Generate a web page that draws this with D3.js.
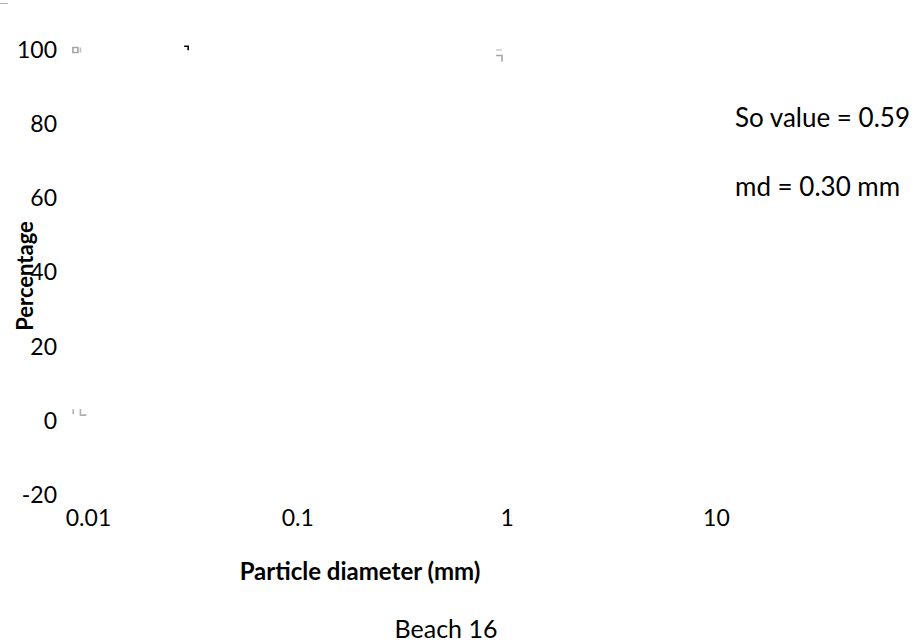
<!DOCTYPE html>
<html>
<head>
<meta charset="utf-8">
<script src="https://cdn.jsdelivr.net/npm/d3@7"></script>
<style>
    body { margin: 0; background: #fff; }
    svg { display: block; font-family: Lato, "Open Sans", sans-serif; }
</style>
</head>
<body>
<div id="chart"></div>
<script>
// tick values
const xTicks = [0.01, 0.1, 1, 10];
const yTicks = [-20, 0, 20, 40, 60, 80, 100];

// leftover marker fragments of the series (diameter in mm, percentage)
const fragDiam = [0.0087, 0.0092, 0.0301, 0.92, 0.92, 0.0085, 0.0092];
const fragPct = [100, 100, 101, 100, 98.5, 2.5, 2.4];
const fragShape = ["square", "bar", "corner", "hbar", "hook", "bar", "ell"];
const fragTone = ["#a6a6a6", "#c0c0c0", "#000000", "#d0d0d0", "#a6a6a6", "#b0b0b0", "#b0b0b0"];

const notes = ["So value = 0.59", "md = 0.30 mm"];

const width = 917, height = 642;

const svg = d3.select("#chart").append("svg")
    .attr("width", width)
    .attr("height", height);

let x = d3.scaleLog()
    .domain([0.01, 100])
    .range([88, 925.2]);

let y = d3.scaleLinear()
    .domain([-20, 100])
    .range([495.2, 50]);

// y axis, labels only
let yAxis = d3.axisLeft(y)
    .tickValues(yTicks)
    .tickSize(0)
    .tickPadding(0)
    .tickFormat(d => d);

let gy = svg.append("g")
    .attr("transform", "translate(57,0)")
    .call(yAxis);
gy.select(".domain").remove();
gy.selectAll("text")
    .attr("font-size", 23)
    .attr("font-family", "Lato, sans-serif")
    .attr("fill", "#000");

// x axis, labels only
let xAxis = d3.axisBottom(x)
    .tickValues(xTicks)
    .tickSize(0)
    .tickPadding(15)
    .tickFormat(d => d);

let gx = svg.append("g")
    .attr("transform", "translate(0,495)")
    .call(xAxis);
gx.select(".domain").remove();
gx.selectAll("text")
    .attr("font-size", 23)
    .attr("font-family", "Lato, sans-serif")
    .attr("fill", "#000");

// fragments
const glyphs = {
    square: "M-2.5,-2.5h5v5h-5z",
    bar: "M0,-2.5v5",
    corner: "M-4,0h4v4",
    hbar: "M-3,0h6",
    hook: "M-3,0h6v6",
    ell: "M0,-3v6h6"
};

let frags = fragDiam.map((d, i) => ({d: d, p: fragPct[i], shape: fragShape[i], tone: fragTone[i]}));

svg.selectAll(".frag")
    .data(frags)
    .enter()
    .append("path")
    .attr("class", "frag")
    .attr("transform", d => "translate(" + x(d.d) + "," + y(d.p) + ")")
    .attr("d", d => glyphs[d.shape])
    .attr("fill", "none")
    .attr("stroke", d => d.tone)
    .attr("stroke-width", 1.6);

// stray line top-left
svg.append("line")
    .attr("x1", 0).attr("x2", 8)
    .attr("y1", 3.5).attr("y2", 3.5)
    .attr("stroke", "#b0b0b0")
    .attr("stroke-width", 1);

// annotations
svg.selectAll(".note")
    .data(notes)
    .enter()
    .append("text")
    .attr("class", "note")
    .attr("x", 735)
    .attr("y", (d, i) => 127 + i * 69)
    .attr("font-size", 26)
    .text(d => d);

// axis titles
svg.append("text")
    .attr("x", 360)
    .attr("y", 580)
    .attr("text-anchor", "middle")
    .attr("font-size", 24)
    .attr("font-weight", "bold")
    .text("Particle diameter (mm)");

svg.append("text")
    .attr("transform", "translate(33,276) rotate(-90)")
    .attr("text-anchor", "middle")
    .attr("font-size", 22)
    .attr("font-weight", "bold")
    .text("Percentage");

// chart title
svg.append("text")
    .attr("x", 446)
    .attr("y", 638)
    .attr("text-anchor", "middle")
    .attr("font-size", 25)
    .text("Beach 16");
</script>
</body>
</html>
